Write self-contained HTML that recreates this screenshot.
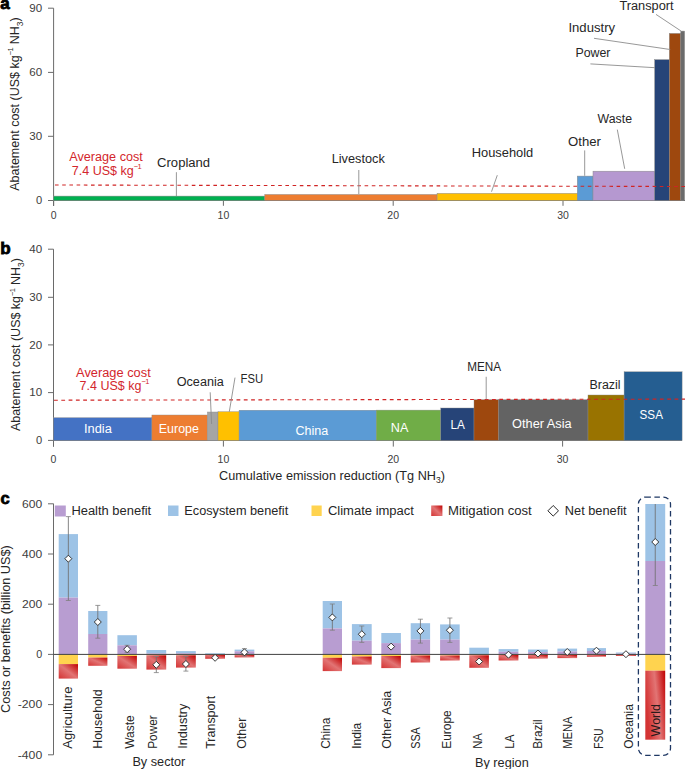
<!DOCTYPE html>
<html><head><meta charset="utf-8"><style>
html,body{margin:0;padding:0;background:#fff;}
svg{display:block;font-family:"Liberation Sans", sans-serif;}
</style></head><body>
<svg width="685" height="769" viewBox="0 0 685 769">
<rect width="685" height="769" fill="#fff"/>
<text x="0.2" y="9.4" font-size="17" fill="#000" text-anchor="start" font-weight="bold" stroke="#000" stroke-width="0.8">a</text>
<line x1="53.6" y1="8.2" x2="53.6" y2="206" stroke="#6a6a6a" stroke-width="1" />
<line x1="48" y1="8.2" x2="53.6" y2="8.2" stroke="#6a6a6a" stroke-width="1" />
<text x="42.2" y="11.899999999999999" font-size="10.5" fill="#404040" text-anchor="end" textLength="12.9" lengthAdjust="spacingAndGlyphs" >90</text>
<line x1="48" y1="72.4" x2="53.6" y2="72.4" stroke="#6a6a6a" stroke-width="1" />
<text x="42.2" y="76.10000000000001" font-size="10.5" fill="#404040" text-anchor="end" textLength="12.9" lengthAdjust="spacingAndGlyphs" >60</text>
<line x1="48" y1="136.3" x2="53.6" y2="136.3" stroke="#6a6a6a" stroke-width="1" />
<text x="42.2" y="140.0" font-size="10.5" fill="#404040" text-anchor="end" textLength="12.9" lengthAdjust="spacingAndGlyphs" >30</text>
<line x1="48" y1="200.5" x2="53.6" y2="200.5" stroke="#6a6a6a" stroke-width="1" />
<text x="42.2" y="204.2" font-size="10.5" fill="#404040" text-anchor="end" textLength="6.2" lengthAdjust="spacingAndGlyphs" >0</text>
<line x1="53.6" y1="200.5" x2="53.6" y2="205.8" stroke="#6a6a6a" stroke-width="1" />
<text x="53.6" y="219.2" font-size="10.5" fill="#404040" text-anchor="middle" >0</text>
<line x1="223.4" y1="200.5" x2="223.4" y2="205.8" stroke="#6a6a6a" stroke-width="1" />
<text x="223.4" y="219.2" font-size="10.5" fill="#404040" text-anchor="middle" >10</text>
<line x1="393.2" y1="200.5" x2="393.2" y2="205.8" stroke="#6a6a6a" stroke-width="1" />
<text x="393.2" y="219.2" font-size="10.5" fill="#404040" text-anchor="middle" >20</text>
<line x1="563" y1="200.5" x2="563" y2="205.8" stroke="#6a6a6a" stroke-width="1" />
<text x="563" y="219.2" font-size="10.5" fill="#404040" text-anchor="middle" >30</text>
<line x1="53.6" y1="200.5" x2="685" y2="200.5" stroke="#6a6a6a" stroke-width="1" />
<rect x="53.60" y="196.10" width="211.20" height="4.40" fill="#00b050" stroke="#8a8a8a" stroke-width="0.5"/>
<rect x="264.80" y="194.50" width="172.30" height="6.00" fill="#ed7d31" stroke="#8a8a8a" stroke-width="0.5"/>
<rect x="437.10" y="193.40" width="140.20" height="7.10" fill="#ffc000" stroke="#8a8a8a" stroke-width="0.5"/>
<rect x="577.30" y="176.10" width="15.70" height="24.40" fill="#5b9bd5" stroke="#8a8a8a" stroke-width="0.5"/>
<rect x="593.00" y="171.20" width="61.70" height="29.30" fill="#b598d0" stroke="#8a8a8a" stroke-width="0.5"/>
<rect x="654.70" y="59.70" width="14.60" height="140.80" fill="#264478" stroke="#8a8a8a" stroke-width="0.5"/>
<rect x="669.30" y="33.40" width="11.50" height="167.10" fill="#9e480e" stroke="#8a8a8a" stroke-width="0.5"/>
<rect x="680.80" y="31.10" width="3.80" height="169.40" fill="#6b6b6b" stroke="#8a8a8a" stroke-width="0.5"/>
<line x1="55" y1="185.0" x2="685" y2="186.5" stroke="#d02424" stroke-width="1.1" stroke-dasharray="3.6 3.6"/>
<line x1="176.4" y1="172.2" x2="176.4" y2="196" stroke="#8c8c8c" stroke-width="0.9" />
<line x1="358.8" y1="170" x2="358.8" y2="194" stroke="#8c8c8c" stroke-width="0.9" />
<line x1="497.3" y1="175.2" x2="491.5" y2="191.7" stroke="#8c8c8c" stroke-width="0.9" />
<line x1="584.7" y1="150.4" x2="584.7" y2="175.8" stroke="#8c8c8c" stroke-width="0.9" />
<line x1="617.3" y1="129.6" x2="624.7" y2="168.8" stroke="#8c8c8c" stroke-width="0.9" />
<line x1="590.4" y1="63.9" x2="655" y2="67.7" stroke="#8c8c8c" stroke-width="0.9" />
<line x1="594" y1="38.3" x2="670.2" y2="49.5" stroke="#8c8c8c" stroke-width="0.9" />
<line x1="656" y1="14.4" x2="681" y2="31" stroke="#8c8c8c" stroke-width="0.9" />
<text x="69.3" y="160.6" font-size="12.5" fill="#d3262c" text-anchor="start" textLength="73.5" lengthAdjust="spacingAndGlyphs" >Average cost</text>
<text x="71.8" y="174.6" font-size="12.5" fill="#d3262c" text-anchor="start" >7.4 US$ kg<tspan font-size="7.5" dy="-5.6" letter-spacing="-0.6">−1</tspan></text>
<text x="157.1" y="167.3" font-size="12.5" fill="#262626" text-anchor="start" textLength="53.0" lengthAdjust="spacingAndGlyphs" >Cropland</text>
<text x="331.7" y="163.4" font-size="12.5" fill="#262626" text-anchor="start" textLength="53.1" lengthAdjust="spacingAndGlyphs" >Livestock</text>
<text x="471.7" y="156.6" font-size="12.5" fill="#262626" text-anchor="start" textLength="61.6" lengthAdjust="spacingAndGlyphs" >Household</text>
<text x="568.0" y="145.5" font-size="12.5" fill="#262626" text-anchor="start" textLength="32.9" lengthAdjust="spacingAndGlyphs" >Other</text>
<text x="597.6" y="122.9" font-size="12.5" fill="#262626" text-anchor="start" textLength="34.4" lengthAdjust="spacingAndGlyphs" >Waste</text>
<text x="575.4" y="56.5" font-size="12.5" fill="#262626" text-anchor="start" textLength="35.1" lengthAdjust="spacingAndGlyphs" >Power</text>
<text x="568.4" y="31.8" font-size="12.5" fill="#262626" text-anchor="start" textLength="46.7" lengthAdjust="spacingAndGlyphs" >Industry</text>
<text x="619.4" y="10.2" font-size="12.5" fill="#262626" text-anchor="start" textLength="54.2" lengthAdjust="spacingAndGlyphs" >Transport</text>
<text transform="translate(18.9,190.8) rotate(-90)" font-size="12.5" fill="#262626" text-anchor="start" textLength="173.5" lengthAdjust="spacingAndGlyphs" >Abatement cost (US$ kg<tspan font-size="7.5" dy="-5.6" letter-spacing="-0.5">−1</tspan><tspan dy="5.6"> NH</tspan><tspan font-size="8.5" dy="3.8">3</tspan><tspan dy="-3.8">)</tspan></text>
<text x="0.2" y="253.6" font-size="17" fill="#000" text-anchor="start" font-weight="bold" stroke="#000" stroke-width="0.8">b</text>
<line x1="53.5" y1="249.2" x2="53.5" y2="446.6" stroke="#6a6a6a" stroke-width="1" />
<line x1="48" y1="249.2" x2="53.5" y2="249.2" stroke="#6a6a6a" stroke-width="1" />
<text x="42.2" y="252.89999999999998" font-size="10.5" fill="#404040" text-anchor="end" textLength="12.9" lengthAdjust="spacingAndGlyphs" >40</text>
<line x1="48" y1="297.3" x2="53.5" y2="297.3" stroke="#6a6a6a" stroke-width="1" />
<text x="42.2" y="301.0" font-size="10.5" fill="#404040" text-anchor="end" textLength="12.9" lengthAdjust="spacingAndGlyphs" >30</text>
<line x1="48" y1="344.9" x2="53.5" y2="344.9" stroke="#6a6a6a" stroke-width="1" />
<text x="42.2" y="348.59999999999997" font-size="10.5" fill="#404040" text-anchor="end" textLength="12.9" lengthAdjust="spacingAndGlyphs" >20</text>
<line x1="48" y1="392.6" x2="53.5" y2="392.6" stroke="#6a6a6a" stroke-width="1" />
<text x="42.2" y="396.3" font-size="10.5" fill="#404040" text-anchor="end" textLength="12.9" lengthAdjust="spacingAndGlyphs" >10</text>
<line x1="48" y1="440.4" x2="53.5" y2="440.4" stroke="#6a6a6a" stroke-width="1" />
<text x="42.2" y="444.09999999999997" font-size="10.5" fill="#404040" text-anchor="end" textLength="6.2" lengthAdjust="spacingAndGlyphs" >0</text>
<line x1="53.5" y1="440.4" x2="53.5" y2="446.6" stroke="#6a6a6a" stroke-width="1" />
<text x="53.5" y="462.8" font-size="10.5" fill="#404040" text-anchor="middle" >0</text>
<line x1="223.4" y1="440.4" x2="223.4" y2="446.6" stroke="#6a6a6a" stroke-width="1" />
<text x="223.4" y="462.8" font-size="10.5" fill="#404040" text-anchor="middle" >10</text>
<line x1="393.3" y1="440.4" x2="393.3" y2="446.6" stroke="#6a6a6a" stroke-width="1" />
<text x="393.3" y="462.8" font-size="10.5" fill="#404040" text-anchor="middle" >20</text>
<line x1="562.6" y1="440.4" x2="562.6" y2="446.6" stroke="#6a6a6a" stroke-width="1" />
<text x="562.6" y="462.8" font-size="10.5" fill="#404040" text-anchor="middle" >30</text>
<line x1="53.5" y1="440.4" x2="682.1" y2="440.4" stroke="#6a6a6a" stroke-width="1" />
<rect x="53.50" y="417.70" width="98.40" height="22.70" fill="#4472c4" stroke="#8a8a8a" stroke-width="0.4"/>
<rect x="151.90" y="415.00" width="55.50" height="25.40" fill="#ed7d31" stroke="#8a8a8a" stroke-width="0.4"/>
<rect x="207.40" y="412.00" width="10.60" height="28.40" fill="#a5a5a5" stroke="#8a8a8a" stroke-width="0.4"/>
<rect x="218.00" y="411.70" width="21.10" height="28.70" fill="#ffc000" stroke="#8a8a8a" stroke-width="0.4"/>
<rect x="239.10" y="410.20" width="137.10" height="30.20" fill="#5b9bd5" stroke="#8a8a8a" stroke-width="0.4"/>
<rect x="376.20" y="410.10" width="64.60" height="30.30" fill="#70ad47" stroke="#8a8a8a" stroke-width="0.4"/>
<rect x="440.80" y="408.00" width="33.20" height="32.40" fill="#264478" stroke="#8a8a8a" stroke-width="0.4"/>
<rect x="474.00" y="399.70" width="24.80" height="40.70" fill="#9e480e" stroke="#8a8a8a" stroke-width="0.4"/>
<rect x="498.80" y="399.70" width="89.20" height="40.70" fill="#636363" stroke="#8a8a8a" stroke-width="0.4"/>
<rect x="588.00" y="395.00" width="36.10" height="45.40" fill="#997300" stroke="#8a8a8a" stroke-width="0.4"/>
<rect x="624.10" y="371.80" width="58.00" height="68.60" fill="#255e91" stroke="#8a8a8a" stroke-width="0.4"/>
<line x1="54" y1="400.2" x2="685" y2="399.1" stroke="#d02424" stroke-width="1.1" stroke-dasharray="3.8 3.5"/>
<line x1="210.2" y1="392.3" x2="211.6" y2="424" stroke="#8c8c8c" stroke-width="0.9" />
<line x1="235" y1="377.6" x2="229.3" y2="411.7" stroke="#8c8c8c" stroke-width="0.9" />
<line x1="486.2" y1="376.8" x2="486.2" y2="399.3" stroke="#8c8c8c" stroke-width="0.9" />
<text x="76.1" y="376.6" font-size="12.5" fill="#d3262c" text-anchor="start" textLength="74.6" lengthAdjust="spacingAndGlyphs" >Average cost</text>
<text x="79.6" y="389.8" font-size="12.5" fill="#d3262c" text-anchor="start" >7.4 US$ kg<tspan font-size="7.5" dy="-5.6" letter-spacing="-0.6">−1</tspan></text>
<text x="176.70000000000002" y="386.1" font-size="12.5" fill="#262626" text-anchor="start" textLength="47.1" lengthAdjust="spacingAndGlyphs" >Oceania</text>
<text x="240.6" y="382.8" font-size="12.5" fill="#262626" text-anchor="start" textLength="22.5" lengthAdjust="spacingAndGlyphs" >FSU</text>
<text x="467.2" y="371.1" font-size="12.5" fill="#262626" text-anchor="start" textLength="33.9" lengthAdjust="spacingAndGlyphs" >MENA</text>
<text x="589.5" y="389" font-size="12.5" fill="#262626" text-anchor="start" textLength="31.1" lengthAdjust="spacingAndGlyphs" >Brazil</text>
<text x="84.0" y="432.9" font-size="12.5" fill="#ffffff" text-anchor="start" textLength="27.8" lengthAdjust="spacingAndGlyphs" >India</text>
<text x="158.8" y="433" font-size="12.5" fill="#ffffff" text-anchor="start" textLength="40.1" lengthAdjust="spacingAndGlyphs" >Europe</text>
<text x="295.4" y="435.1" font-size="12.5" fill="#ffffff" text-anchor="start" textLength="32.8" lengthAdjust="spacingAndGlyphs" >China</text>
<text x="390.79999999999995" y="431.7" font-size="12.5" fill="#ffffff" text-anchor="start" textLength="17.5" lengthAdjust="spacingAndGlyphs" >NA</text>
<text x="450.4" y="429.3" font-size="12.5" fill="#ffffff" text-anchor="start" textLength="14.4" lengthAdjust="spacingAndGlyphs" >LA</text>
<text x="512.1" y="427.9" font-size="12.5" fill="#ffffff" text-anchor="start" textLength="59.5" lengthAdjust="spacingAndGlyphs" >Other Asia</text>
<text x="639.6" y="418.5" font-size="12.5" fill="#ffffff" text-anchor="start" textLength="23.3" lengthAdjust="spacingAndGlyphs" >SSA</text>
<text transform="translate(20.3,431.1) rotate(-90)" font-size="12.5" fill="#262626" text-anchor="start" textLength="173.0" lengthAdjust="spacingAndGlyphs" >Abatement cost (US$ kg<tspan font-size="7.5" dy="-5.6" letter-spacing="-0.5">−1</tspan><tspan dy="5.6"> NH</tspan><tspan font-size="8.5" dy="3.8">3</tspan><tspan dy="-3.8">)</tspan></text>
<text x="219" y="480.3" font-size="12.5" fill="#262626" text-anchor="start" textLength="226.0" lengthAdjust="spacingAndGlyphs" >Cumulative emission reduction (Tg NH<tspan font-size="8.5" dy="3">3</tspan><tspan dy="-3">)</tspan></text>
<text x="0.4" y="504.4" font-size="16.5" fill="#000" text-anchor="start" font-weight="bold" stroke="#000" stroke-width="0.8">c</text>
<line x1="53.5" y1="503.7" x2="53.5" y2="754.8" stroke="#6a6a6a" stroke-width="1" />
<line x1="48" y1="503.79999999999995" x2="53.5" y2="503.79999999999995" stroke="#6a6a6a" stroke-width="1" />
<text x="42.2" y="507.49999999999994" font-size="10.5" fill="#404040" text-anchor="end" textLength="20.2" lengthAdjust="spacingAndGlyphs" >600</text>
<line x1="48" y1="554.0" x2="53.5" y2="554.0" stroke="#6a6a6a" stroke-width="1" />
<text x="42.2" y="557.7" font-size="10.5" fill="#404040" text-anchor="end" textLength="20.2" lengthAdjust="spacingAndGlyphs" >400</text>
<line x1="48" y1="604.1999999999999" x2="53.5" y2="604.1999999999999" stroke="#6a6a6a" stroke-width="1" />
<text x="42.2" y="607.9" font-size="10.5" fill="#404040" text-anchor="end" textLength="20.2" lengthAdjust="spacingAndGlyphs" >200</text>
<line x1="48" y1="654.4" x2="53.5" y2="654.4" stroke="#6a6a6a" stroke-width="1" />
<text x="42.2" y="658.1" font-size="10.5" fill="#404040" text-anchor="end" textLength="6.0" lengthAdjust="spacingAndGlyphs" >0</text>
<line x1="48" y1="704.6" x2="53.5" y2="704.6" stroke="#6a6a6a" stroke-width="1" />
<text x="42.2" y="708.3000000000001" font-size="10.5" fill="#404040" text-anchor="end" textLength="24.5" lengthAdjust="spacingAndGlyphs" >-200</text>
<line x1="48" y1="754.8" x2="53.5" y2="754.8" stroke="#6a6a6a" stroke-width="1" />
<text x="42.2" y="758.5" font-size="10.5" fill="#404040" text-anchor="end" textLength="24.5" lengthAdjust="spacingAndGlyphs" >-400</text>
<text transform="translate(10.4,712.9) rotate(-90)" font-size="12.5" fill="#262626" text-anchor="start" textLength="167.6" lengthAdjust="spacingAndGlyphs" >Costs or benefits (billion US$)</text>
<defs><linearGradient id="rg" x1="1" y1="0" x2="0" y2="1">
<stop offset="0" stop-color="#c00000"/><stop offset="0.5" stop-color="#e27474"/><stop offset="1" stop-color="#d43434"/>
</linearGradient>
<linearGradient id="rgw" gradientUnits="objectBoundingBox" x1="1" y1="0" x2="0" y2="0.35">
<stop offset="0" stop-color="#c00000"/><stop offset="0.5" stop-color="#e27474"/><stop offset="1" stop-color="#d43434"/>
</linearGradient></defs>
<rect x="58.70" y="534.10" width="19.30" height="63.50" fill="#9dc3e6" />
<rect x="58.70" y="597.60" width="19.30" height="56.80" fill="#b89dd1" />
<rect x="58.70" y="654.40" width="19.30" height="9.70" fill="#ffd34f" />
<rect x="58.70" y="664.10" width="19.30" height="14.50" fill="url(#rg)" />
<rect x="88.20" y="611.00" width="19.20" height="23.00" fill="#9dc3e6" />
<rect x="88.20" y="634.00" width="19.20" height="20.40" fill="#b89dd1" />
<rect x="88.20" y="654.40" width="19.20" height="3.20" fill="#ffd34f" />
<rect x="88.20" y="657.60" width="19.20" height="8.20" fill="url(#rg)" />
<rect x="117.40" y="635.20" width="19.50" height="10.10" fill="#9dc3e6" />
<rect x="117.40" y="645.30" width="19.50" height="9.10" fill="#b89dd1" />
<rect x="117.40" y="654.40" width="19.50" height="1.60" fill="#ffd34f" />
<rect x="117.40" y="656.00" width="19.50" height="12.70" fill="url(#rg)" />
<rect x="146.40" y="650.00" width="19.80" height="3.50" fill="#9dc3e6" />
<rect x="146.40" y="653.50" width="19.80" height="0.90" fill="#b89dd1" />
<rect x="146.40" y="654.40" width="19.80" height="0.90" fill="#ffd34f" />
<rect x="146.40" y="655.30" width="19.80" height="14.30" fill="url(#rg)" />
<rect x="176.00" y="651.10" width="19.80" height="2.20" fill="#9dc3e6" />
<rect x="176.00" y="653.30" width="19.80" height="1.10" fill="#b89dd1" />
<rect x="176.00" y="654.40" width="19.80" height="0.90" fill="#ffd34f" />
<rect x="176.00" y="655.30" width="19.80" height="12.30" fill="url(#rg)" />
<rect x="205.20" y="653.30" width="19.80" height="0.70" fill="#9dc3e6" />
<rect x="205.20" y="654.00" width="19.80" height="0.40" fill="#b89dd1" />
<rect x="205.20" y="654.40" width="19.80" height="0.50" fill="#ffd34f" />
<rect x="205.20" y="654.90" width="19.80" height="3.90" fill="url(#rg)" />
<rect x="234.60" y="649.60" width="19.70" height="1.70" fill="#9dc3e6" />
<rect x="234.60" y="651.30" width="19.70" height="3.10" fill="#b89dd1" />
<rect x="234.60" y="654.40" width="19.70" height="0.60" fill="#ffd34f" />
<rect x="234.60" y="655.00" width="19.70" height="2.40" fill="url(#rg)" />
<rect x="322.70" y="601.00" width="19.30" height="27.40" fill="#9dc3e6" />
<rect x="322.70" y="628.40" width="19.30" height="26.00" fill="#b89dd1" />
<rect x="322.70" y="654.40" width="19.30" height="3.40" fill="#ffd34f" />
<rect x="322.70" y="657.80" width="19.30" height="13.30" fill="url(#rg)" />
<rect x="351.90" y="624.10" width="19.80" height="16.60" fill="#9dc3e6" />
<rect x="351.90" y="640.70" width="19.80" height="13.70" fill="#b89dd1" />
<rect x="351.90" y="654.40" width="19.80" height="2.10" fill="#ffd34f" />
<rect x="351.90" y="656.50" width="19.80" height="8.10" fill="url(#rg)" />
<rect x="381.30" y="633.00" width="19.60" height="10.10" fill="#9dc3e6" />
<rect x="381.30" y="643.10" width="19.60" height="11.30" fill="#b89dd1" />
<rect x="381.30" y="654.40" width="19.60" height="1.60" fill="#ffd34f" />
<rect x="381.30" y="656.00" width="19.60" height="12.10" fill="url(#rg)" />
<rect x="410.70" y="623.20" width="19.40" height="16.40" fill="#9dc3e6" />
<rect x="410.70" y="639.60" width="19.40" height="14.80" fill="#b89dd1" />
<rect x="410.70" y="654.40" width="19.40" height="1.10" fill="#ffd34f" />
<rect x="410.70" y="655.50" width="19.40" height="7.00" fill="url(#rg)" />
<rect x="440.10" y="624.40" width="19.60" height="15.20" fill="#9dc3e6" />
<rect x="440.10" y="639.60" width="19.60" height="14.80" fill="#b89dd1" />
<rect x="440.10" y="654.40" width="19.60" height="1.10" fill="#ffd34f" />
<rect x="440.10" y="655.50" width="19.60" height="5.00" fill="url(#rg)" />
<rect x="469.30" y="647.70" width="19.60" height="6.30" fill="#9dc3e6" />
<rect x="469.30" y="654.00" width="19.60" height="0.40" fill="#b89dd1" />
<rect x="469.30" y="654.40" width="19.60" height="0.90" fill="#ffd34f" />
<rect x="469.30" y="655.30" width="19.60" height="12.50" fill="url(#rg)" />
<rect x="498.60" y="649.10" width="19.80" height="2.70" fill="#9dc3e6" />
<rect x="498.60" y="651.80" width="19.80" height="2.60" fill="#b89dd1" />
<rect x="498.60" y="654.40" width="19.80" height="0.60" fill="#ffd34f" />
<rect x="498.60" y="655.00" width="19.80" height="5.50" fill="url(#rg)" />
<rect x="528.10" y="649.50" width="19.70" height="2.60" fill="#9dc3e6" />
<rect x="528.10" y="652.10" width="19.70" height="2.30" fill="#b89dd1" />
<rect x="528.10" y="654.40" width="19.70" height="0.60" fill="#ffd34f" />
<rect x="528.10" y="655.00" width="19.70" height="3.60" fill="url(#rg)" />
<rect x="557.40" y="648.60" width="19.70" height="2.90" fill="#9dc3e6" />
<rect x="557.40" y="651.50" width="19.70" height="2.90" fill="#b89dd1" />
<rect x="557.40" y="654.40" width="19.70" height="0.60" fill="#ffd34f" />
<rect x="557.40" y="655.00" width="19.70" height="3.10" fill="url(#rg)" />
<rect x="586.90" y="648.10" width="19.10" height="2.90" fill="#9dc3e6" />
<rect x="586.90" y="651.00" width="19.10" height="3.40" fill="#b89dd1" />
<rect x="586.90" y="654.40" width="19.10" height="0.60" fill="#ffd34f" />
<rect x="586.90" y="655.00" width="19.10" height="1.80" fill="url(#rg)" />
<rect x="615.90" y="652.50" width="20.10" height="1.10" fill="#9dc3e6" />
<rect x="615.90" y="653.60" width="20.10" height="0.80" fill="#b89dd1" />
<rect x="615.90" y="654.40" width="20.10" height="0.20" fill="#ffd34f" />
<rect x="615.90" y="654.60" width="20.10" height="1.40" fill="url(#rg)" />
<rect x="645.30" y="504.00" width="19.90" height="57.00" fill="#9dc3e6" />
<rect x="645.30" y="561.00" width="19.90" height="93.40" fill="#b89dd1" />
<rect x="645.30" y="654.40" width="19.90" height="16.30" fill="#ffd34f" />
<rect x="645.30" y="670.70" width="19.90" height="69.00" fill="url(#rgw)" />
<line x1="53.5" y1="654.4" x2="670" y2="654.4" stroke="#404040" stroke-width="1" />
<line x1="68.35" y1="516.6" x2="68.35" y2="600.5" stroke="#707070" stroke-width="0.85" />
<line x1="65.85" y1="516.6" x2="70.85" y2="516.6" stroke="#808080" stroke-width="0.8" />
<line x1="65.85" y1="600.5" x2="70.85" y2="600.5" stroke="#808080" stroke-width="0.8" />
<path d="M68.35 555.20 L71.85 558.70 L68.35 562.20 L64.85 558.70Z" fill="#fff" stroke="#262626" stroke-width="0.9"/>
<line x1="97.80000000000001" y1="605.4" x2="97.80000000000001" y2="638.2" stroke="#707070" stroke-width="0.85" />
<line x1="95.30000000000001" y1="605.4" x2="100.30000000000001" y2="605.4" stroke="#808080" stroke-width="0.8" />
<line x1="95.30000000000001" y1="638.2" x2="100.30000000000001" y2="638.2" stroke="#808080" stroke-width="0.8" />
<path d="M97.80 618.50 L101.30 622.00 L97.80 625.50 L94.30 622.00Z" fill="#fff" stroke="#262626" stroke-width="0.9"/>
<line x1="127.15" y1="645.3" x2="127.15" y2="652.5" stroke="#707070" stroke-width="0.85" />
<line x1="124.65" y1="645.3" x2="129.65" y2="645.3" stroke="#808080" stroke-width="0.8" />
<line x1="124.65" y1="652.5" x2="129.65" y2="652.5" stroke="#808080" stroke-width="0.8" />
<path d="M127.15 645.70 L130.65 649.20 L127.15 652.70 L123.65 649.20Z" fill="#fff" stroke="#262626" stroke-width="0.9"/>
<line x1="156.3" y1="656.5" x2="156.3" y2="672.6" stroke="#707070" stroke-width="0.85" />
<line x1="153.8" y1="656.5" x2="158.8" y2="656.5" stroke="#808080" stroke-width="0.8" />
<line x1="153.8" y1="672.6" x2="158.8" y2="672.6" stroke="#808080" stroke-width="0.8" />
<path d="M156.30 661.30 L159.80 664.80 L156.30 668.30 L152.80 664.80Z" fill="#fff" stroke="#262626" stroke-width="0.9"/>
<line x1="185.9" y1="656.4" x2="185.9" y2="671.1" stroke="#707070" stroke-width="0.85" />
<line x1="183.4" y1="656.4" x2="188.4" y2="656.4" stroke="#808080" stroke-width="0.8" />
<line x1="183.4" y1="671.1" x2="188.4" y2="671.1" stroke="#808080" stroke-width="0.8" />
<path d="M185.90 660.50 L189.40 664.00 L185.90 667.50 L182.40 664.00Z" fill="#fff" stroke="#262626" stroke-width="0.9"/>
<path d="M215.10 654.30 L218.60 657.80 L215.10 661.30 L211.60 657.80Z" fill="#fff" stroke="#262626" stroke-width="0.9"/>
<line x1="244.45" y1="648.6" x2="244.45" y2="656" stroke="#707070" stroke-width="0.85" />
<line x1="241.95" y1="648.6" x2="246.95" y2="648.6" stroke="#808080" stroke-width="0.8" />
<line x1="241.95" y1="656" x2="246.95" y2="656" stroke="#808080" stroke-width="0.8" />
<path d="M244.45 648.80 L247.95 652.30 L244.45 655.80 L240.95 652.30Z" fill="#fff" stroke="#262626" stroke-width="0.9"/>
<line x1="332.35" y1="604" x2="332.35" y2="630.2" stroke="#707070" stroke-width="0.85" />
<line x1="329.85" y1="604" x2="334.85" y2="604" stroke="#808080" stroke-width="0.8" />
<line x1="329.85" y1="630.2" x2="334.85" y2="630.2" stroke="#808080" stroke-width="0.8" />
<path d="M332.35 613.90 L335.85 617.40 L332.35 620.90 L328.85 617.40Z" fill="#fff" stroke="#262626" stroke-width="0.9"/>
<line x1="361.79999999999995" y1="626" x2="361.79999999999995" y2="642.4" stroke="#707070" stroke-width="0.85" />
<line x1="359.29999999999995" y1="626" x2="364.29999999999995" y2="626" stroke="#808080" stroke-width="0.8" />
<line x1="359.29999999999995" y1="642.4" x2="364.29999999999995" y2="642.4" stroke="#808080" stroke-width="0.8" />
<path d="M361.80 630.70 L365.30 634.20 L361.80 637.70 L358.30 634.20Z" fill="#fff" stroke="#262626" stroke-width="0.9"/>
<path d="M391.10 643.10 L394.60 646.60 L391.10 650.10 L387.60 646.60Z" fill="#fff" stroke="#262626" stroke-width="0.9"/>
<line x1="420.4" y1="619.2" x2="420.4" y2="643.1" stroke="#707070" stroke-width="0.85" />
<line x1="417.9" y1="619.2" x2="422.9" y2="619.2" stroke="#808080" stroke-width="0.8" />
<line x1="417.9" y1="643.1" x2="422.9" y2="643.1" stroke="#808080" stroke-width="0.8" />
<path d="M420.40 627.40 L423.90 630.90 L420.40 634.40 L416.90 630.90Z" fill="#fff" stroke="#262626" stroke-width="0.9"/>
<line x1="449.9" y1="618" x2="449.9" y2="642.4" stroke="#707070" stroke-width="0.85" />
<line x1="447.4" y1="618" x2="452.4" y2="618" stroke="#808080" stroke-width="0.8" />
<line x1="447.4" y1="642.4" x2="452.4" y2="642.4" stroke="#808080" stroke-width="0.8" />
<path d="M449.90 626.70 L453.40 630.20 L449.90 633.70 L446.40 630.20Z" fill="#fff" stroke="#262626" stroke-width="0.9"/>
<path d="M479.10 658.00 L482.60 661.50 L479.10 665.00 L475.60 661.50Z" fill="#fff" stroke="#262626" stroke-width="0.9"/>
<path d="M508.50 651.20 L512.00 654.70 L508.50 658.20 L505.00 654.70Z" fill="#fff" stroke="#262626" stroke-width="0.9"/>
<path d="M537.95 650.00 L541.45 653.50 L537.95 657.00 L534.45 653.50Z" fill="#fff" stroke="#262626" stroke-width="0.9"/>
<path d="M567.25 648.50 L570.75 652.00 L567.25 655.50 L563.75 652.00Z" fill="#fff" stroke="#262626" stroke-width="0.9"/>
<path d="M596.45 647.20 L599.95 650.70 L596.45 654.20 L592.95 650.70Z" fill="#fff" stroke="#262626" stroke-width="0.9"/>
<path d="M625.95 650.70 L629.45 654.20 L625.95 657.70 L622.45 654.20Z" fill="#fff" stroke="#262626" stroke-width="0.9"/>
<line x1="655.25" y1="504" x2="655.25" y2="585.5" stroke="#707070" stroke-width="0.85" />
<line x1="652.75" y1="585.5" x2="657.75" y2="585.5" stroke="#808080" stroke-width="0.8" />
<path d="M655.25 538.50 L658.75 542.00 L655.25 545.50 L651.75 542.00Z" fill="#fff" stroke="#262626" stroke-width="0.9"/>
<rect x="638.4" y="497.1" width="32.1" height="258.2" rx="7" ry="7" fill="none" stroke="#1f3864" stroke-width="1.3" stroke-dasharray="5.5 3.5"/>
<text transform="translate(659.5,736.4) rotate(-90)" font-size="12.5" fill="#2a1a1a" text-anchor="start" >World</text>
<rect x="54.80" y="505.50" width="11.00" height="11.00" fill="#b89dd1" />
<text x="71.4" y="515.1" font-size="12.5" fill="#262626" text-anchor="start" textLength="79.8" lengthAdjust="spacingAndGlyphs" >Health benefit</text>
<rect x="168.00" y="505.50" width="10.50" height="10.50" fill="#9dc3e6" />
<text x="184.3" y="515.1" font-size="12.5" fill="#262626" text-anchor="start" textLength="103.9" lengthAdjust="spacingAndGlyphs" >Ecosystem benefit</text>
<rect x="311.50" y="505.50" width="10.20" height="10.50" fill="#ffd34f" />
<text x="327.9" y="515.1" font-size="12.5" fill="#262626" text-anchor="start" textLength="86.1" lengthAdjust="spacingAndGlyphs" >Climate impact</text>
<rect x="431.20" y="505.50" width="11.20" height="10.50" fill="url(#rg)" />
<text x="448" y="515.1" font-size="12.5" fill="#262626" text-anchor="start" textLength="83.7" lengthAdjust="spacingAndGlyphs" >Mitigation cost</text>
<path d="M553.2 505.5 L558.5 510.8 L553.2 516.1 L547.9 510.8Z" fill="#fff" stroke="#262626" stroke-width="1"/>
<text x="564.8" y="515.1" font-size="12.5" fill="#262626" text-anchor="start" textLength="61.8" lengthAdjust="spacingAndGlyphs" >Net benefit</text>
<text transform="translate(72.10000000000001,748.8) rotate(-90)" font-size="12.5" fill="#262626" text-anchor="start" textLength="62.2" lengthAdjust="spacingAndGlyphs" >Agriculture</text>
<text transform="translate(102.4,748.8) rotate(-90)" font-size="12.5" fill="#262626" text-anchor="start" textLength="59.5" lengthAdjust="spacingAndGlyphs" >Household</text>
<text transform="translate(133.6,748.8) rotate(-90)" font-size="12.5" fill="#262626" text-anchor="start" textLength="33.6" lengthAdjust="spacingAndGlyphs" >Waste</text>
<text transform="translate(157.1,748.8) rotate(-90)" font-size="12.5" fill="#262626" text-anchor="start" textLength="33.6" lengthAdjust="spacingAndGlyphs" >Power</text>
<text transform="translate(186.5,748.8) rotate(-90)" font-size="12.5" fill="#262626" text-anchor="start" textLength="45.2" lengthAdjust="spacingAndGlyphs" >Industry</text>
<text transform="translate(214.79999999999998,748.8) rotate(-90)" font-size="12.5" fill="#262626" text-anchor="start" textLength="52.9" lengthAdjust="spacingAndGlyphs" >Transport</text>
<text transform="translate(246.29999999999998,748.8) rotate(-90)" font-size="12.5" fill="#262626" text-anchor="start" textLength="31.1" lengthAdjust="spacingAndGlyphs" >Other</text>
<text transform="translate(330.09999999999997,748.8) rotate(-90)" font-size="12.5" fill="#262626" text-anchor="start" textLength="31.1" lengthAdjust="spacingAndGlyphs" >China</text>
<text transform="translate(360.59999999999997,748.8) rotate(-90)" font-size="12.5" fill="#262626" text-anchor="start" textLength="26.1" lengthAdjust="spacingAndGlyphs" >India</text>
<text transform="translate(390.9,748.8) rotate(-90)" font-size="12.5" fill="#262626" text-anchor="start" textLength="57.9" lengthAdjust="spacingAndGlyphs" >Other Asia</text>
<text transform="translate(420.09999999999997,748.8) rotate(-90)" font-size="12.5" fill="#262626" text-anchor="start" textLength="21.6" lengthAdjust="spacingAndGlyphs" >SSA</text>
<text transform="translate(451.2,748.8) rotate(-90)" font-size="12.5" fill="#262626" text-anchor="start" textLength="38.5" lengthAdjust="spacingAndGlyphs" >Europe</text>
<text transform="translate(482.4,748.8) rotate(-90)" font-size="12.5" fill="#262626" text-anchor="start" textLength="15.6" lengthAdjust="spacingAndGlyphs" >NA</text>
<text transform="translate(513.5,748.8) rotate(-90)" font-size="12.5" fill="#262626" text-anchor="start" textLength="14.2" lengthAdjust="spacingAndGlyphs" >LA</text>
<text transform="translate(542.1,748.8) rotate(-90)" font-size="12.5" fill="#262626" text-anchor="start" textLength="29.5" lengthAdjust="spacingAndGlyphs" >Brazil</text>
<text transform="translate(572.3000000000001,748.8) rotate(-90)" font-size="12.5" fill="#262626" text-anchor="start" textLength="32.3" lengthAdjust="spacingAndGlyphs" >MENA</text>
<text transform="translate(602.8000000000001,748.8) rotate(-90)" font-size="12.5" fill="#262626" text-anchor="start" textLength="20.3" lengthAdjust="spacingAndGlyphs" >FSU</text>
<text transform="translate(633.3000000000001,748.8) rotate(-90)" font-size="12.5" fill="#262626" text-anchor="start" textLength="44.7" lengthAdjust="spacingAndGlyphs" >Oceania</text>
<text x="132.4" y="765.8" font-size="12.5" fill="#262626" text-anchor="start" textLength="52.9" lengthAdjust="spacingAndGlyphs" >By sector</text>
<text x="475" y="766.5" font-size="12.5" fill="#262626" text-anchor="start" textLength="53.7" lengthAdjust="spacingAndGlyphs" >By region</text>
</svg></body></html>
